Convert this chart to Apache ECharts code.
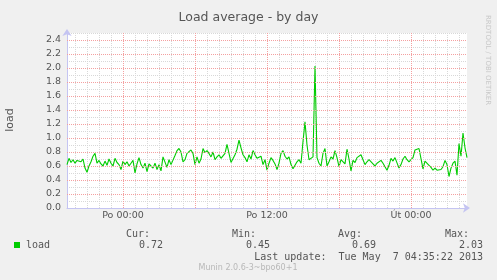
<!DOCTYPE html>
<html>
<head>
<meta charset="utf-8">
<script src="https://cdn.jsdelivr.net/npm/echarts@6/dist/echarts.min.js"></script>
<style>
html,body{margin:0;padding:0;background:#f0f0f0;}
#c{width:497px;height:280px;}
</style>
</head>
<body>
<div id="c"></div>
<script>
// ---- data ----
const startDay = 'Ne';            // first sample: Sunday 19:20
const startMinutes = 19 * 60 + 20;
const stepMinutes = 10;
const dayNames = ['Ne', 'Po', 'Út'];
const xTickLabels = ['Po 00:00', 'Po 12:00', 'Út 00:00'];
const xMajorLines = ['Po 00:00', 'Po 06:00', 'Po 12:00', 'Po 18:00', 'Út 00:00'];
const yTickLabels = ['0.0','0.2','0.4','0.6','0.8','1.0','1.2','1.4','1.6','1.8','2.0','2.2','2.4'];
const yMajorLines = [0.2, 0.4, 0.6, 0.8, 1.0, 1.2, 1.4, 1.6, 1.8, 2.0, 2.2, 2.4];
const loadValues = [
  0.62,0.71,0.65,0.69,0.64,0.68,0.67,0.66,0.70,0.57,
  0.51,0.60,0.66,0.74,0.78,0.64,0.68,0.63,0.60,0.67,
  0.61,0.70,0.64,0.60,0.71,0.65,0.62,0.55,0.67,0.62,
  0.66,0.60,0.64,0.68,0.50,0.63,0.72,0.62,0.57,0.64,
  0.52,0.63,0.60,0.57,0.64,0.55,0.62,0.53,0.73,0.72,
  0.58,0.69,0.62,0.62,0.75,0.82,0.85,0.80,0.66,0.69,
  0.78,0.76,0.83,0.78,0.62,0.73,0.64,0.70,0.85,0.79,
  0.82,0.78,0.73,0.80,0.69,0.73,0.76,0.71,0.70,0.78,
  0.91,0.78,0.65,0.66,0.76,0.84,0.97,0.86,0.76,0.72,
  0.66,0.76,0.70,0.82,0.76,0.71,0.69,0.74,0.62,0.69,
  0.54,0.64,0.72,0.68,0.63,0.55,0.64,0.78,0.82,0.74,
  0.70,0.73,0.62,0.56,0.57,0.66,0.69,0.64,0.95,1.23,
  0.90,0.69,0.71,0.73,2.03,0.72,0.64,0.60,0.78,0.85,
  0.60,0.66,0.73,0.70,0.82,0.72,0.59,0.69,0.71,0.63,
  0.84,0.70,0.53,0.68,0.65,0.72,0.74,0.76,0.69,0.62,
  0.66,0.69,0.71,0.63,0.60,0.64,0.66,0.68,0.64,0.62,
  0.54,0.61,0.71,0.67,0.72,0.71,0.57,0.62,0.70,0.74,
  0.69,0.66,0.69,0.72,0.83,0.85,0.85,0.87,0.56,0.67,
  0.65,0.61,0.58,0.54,0.57,0.54,0.52,0.55,0.59,0.68,
  0.62,0.45,0.57,0.64,0.67,0.47,0.92,0.74,1.07,0.86,
  0.72
];
const legendName = 'load';
const statHeaders = ['Cur:', 'Min:', 'Avg:', 'Max:'];
const statValues = ['0.72', '0.45', '0.69', '2.03'];
const lastUpdate = 'Last update:  Tue May  7 04:35:22 2013';

// category labels (time stamps of the samples)
const categories = loadValues.map((_, i) => {
  const m = startMinutes + i * stepMinutes;
  const d = Math.floor(m / 1440);
  const mm = m % 1440;
  const hh = String(Math.floor(mm / 60)).padStart(2, '0');
  const mi = String(mm % 60).padStart(2, '0');
  return dayNames[dayNames.indexOf(startDay) + d] + ' ' + hh + ':' + mi;
});

const chart = echarts.init(document.getElementById('c'), null, {renderer: 'canvas'});
const RED = '#f4a0a0', GREY = '#d8d8d8', AXIS = '#c4c4f2', TXT = '#555555';
const mono = '"DejaVu Sans Mono", monospace';
const sans = '"DejaVu Sans", sans-serif';

const statX = [150, 256, 362, 469];
const valX = [163, 270, 376, 483];
const graphics = [
  {type: 'text', x: 488, y: 15, rotation: -Math.PI / 2,
    style: {x: 0, y: 0, text: 'RRDTOOL / TOBI OETIKER', fill: '#c8c8c8', font: '7px ' + sans, align: 'left', verticalAlign: 'middle'}},
  {type: 'text', x: 10, y: 120, rotation: Math.PI / 2,
    style: {x: 0, y: 0, text: 'load', fill: TXT, font: '11px ' + sans, align: 'center', verticalAlign: 'middle'}},
  {type: 'rect', shape: {x: 14, y: 242, width: 6, height: 6}, style: {fill: '#00cc00'}},
  {type: 'text', style: {x: 26, y: 245, text: legendName, fill: TXT, font: '10px ' + mono, align: 'left', verticalAlign: 'middle'}},
  {type: 'text', style: {x: 483, y: 257, text: lastUpdate, fill: TXT, font: '10px ' + mono, align: 'right', verticalAlign: 'middle'}},
  {type: 'text', style: {x: 248, y: 268, text: 'Munin 2.0.6-3~bpo60+1', fill: '#b8b8b8', font: '8px ' + sans, align: 'center', verticalAlign: 'middle'}}
];
statHeaders.forEach((h, i) => {
  graphics.push({type: 'text', style: {x: statX[i], y: 234, text: h, fill: TXT, font: '10px ' + mono, align: 'right', verticalAlign: 'middle'}});
  graphics.push({type: 'text', style: {x: valX[i], y: 245, text: statValues[i], fill: TXT, font: '10px ' + mono, align: 'right', verticalAlign: 'middle'}});
});

const majorMarkData = xMajorLines.map(v => ({xAxis: v}))
  .concat(yMajorLines.map(v => ({yAxis: v})));

const option = {
  animation: false,
  backgroundColor: '#f0f0f0',
  title: {
    text: 'Load average - by day', left: 'center', top: 6,
    textStyle: {fontFamily: sans, fontSize: 12.5, fontWeight: 'normal', color: TXT}
  },
  grid: {left: 67, top: 33, width: 400, height: 175, show: true, backgroundColor: '#ffffff', borderWidth: 0},
  xAxis: {
    type: 'category', data: categories, boundaryGap: false,
    axisLine: {show: true, onZero: false, lineStyle: {color: AXIS, width: 1}, symbol: ['none', 'arrow'], symbolSize: [7, 7], symbolOffset: [0, 3]},
    axisTick: {show: false},
    axisLabel: {interval: (i, v) => xTickLabels.indexOf(v) >= 0, color: TXT, fontFamily: sans, fontSize: 9.5, margin: 3},
    splitLine: {show: true, interval: (i, v) => v.endsWith(':00') && xMajorLines.indexOf(v) < 0,
      lineStyle: {color: GREY, type: [1, 1], width: 1}}
  },
  yAxis: {
    type: 'value', min: 0, max: 2.5, interval: 0.1,
    axisLine: {show: true, onZero: false, lineStyle: {color: AXIS, width: 1}, symbol: ['none', 'arrow'], symbolSize: [7, 7], symbolOffset: [0, 4]},
    axisTick: {show: false},
    axisLabel: {
      color: TXT, fontFamily: sans, fontSize: 9.5, margin: 6,
      formatter: v => { const s = v.toFixed(1); return yTickLabels.indexOf(s) >= 0 ? s : ''; }
    },
    splitLine: {show: true, lineStyle: {color: GREY, type: [1, 1], width: 1}}
  },
  series: [{
    type: 'line', name: 'major-grid', data: [], silent: true, z: 1,
    markLine: {
      silent: true, symbol: ['none', 'none'], animation: false,
      label: {show: false},
      lineStyle: {color: RED, type: [1, 1], width: 1},
      emphasis: {disabled: true},
      data: majorMarkData
    }
  }, {
    type: 'line', name: legendName, data: loadValues, showSymbol: false, z: 3,
    lineStyle: {color: '#00cc00', width: 1.1}, itemStyle: {color: '#00cc00'}
  }],
  graphic: graphics
};
chart.setOption(option);
</script>
</body>
</html>
